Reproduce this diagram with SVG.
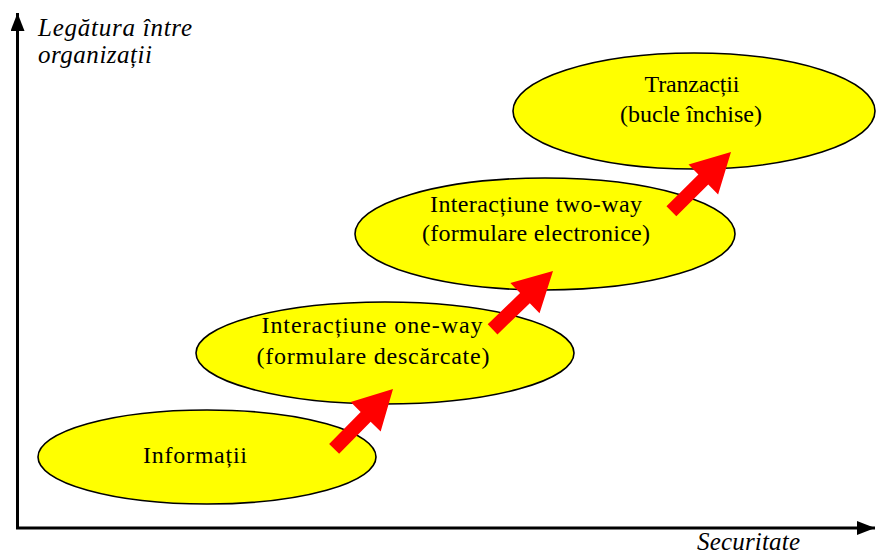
<svg xmlns="http://www.w3.org/2000/svg" xmlns:xlink="http://www.w3.org/1999/xlink" width="876" height="556" viewBox="0 0 876 556">
<style>
.node ellipse{fill:#FFFF00;stroke:#000;stroke-width:1.6}
.node text{font-family:"Liberation Serif","Times New Roman",serif;font-size:24px;fill:#000;text-anchor:middle}
.axis{stroke:#000;stroke-width:3;fill:none}
.axlabel{font-family:"Liberation Serif","Times New Roman",serif;font-style:italic;font-size:25px;fill:#000}
.red{fill:#FF0000}
</style>
<defs>
<marker id="ah" markerUnits="userSpaceOnUse" markerWidth="18" markerHeight="14" viewBox="0 0 18 14" refX="18" refY="7" orient="auto">
<path d="M0,0 L18,7 L0,14 z" fill="#000"/>
</marker>
<path id="blk" class="red" d="M0,0 L-39,-21 L-39,-7 L-84,-7 L-84,7 L-39,7 L-39,21 z"/>
</defs>
<rect width="876" height="556" fill="#fff"/>
<g id="axes">
<path class="axis" d="M17.5,528 V13" marker-end="url(#ah)"/>
<path class="axis" d="M16,528 H875" marker-end="url(#ah)"/>
<text class="axlabel" x="38" y="36" textLength="154">Legătura între</text>
<text class="axlabel" x="38" y="63" textLength="114">organizații</text>
<text class="axlabel" x="697" y="550" font-size="24" textLength="103">Securitate</text>
</g>
<g id="n1" class="node">
<ellipse cx="207" cy="457" rx="169" ry="47"/>
<text x="195" y="463" textLength="104">Informații</text>
</g>
<g id="n2" class="node">
<ellipse cx="385" cy="353" rx="189" ry="51"/>
<text x="372" y="333" textLength="221">Interacțiune one-way</text>
<text x="373" y="364" textLength="233">(formulare descărcate)</text>
</g>
<g id="n3" class="node">
<ellipse cx="545" cy="234" rx="190" ry="56"/>
<text x="536" y="212" textLength="212">Interacțiune two-way</text>
<text x="536" y="241" textLength="228">(formulare electronice)</text>
</g>
<g id="n4" class="node">
<ellipse cx="694" cy="111" rx="181" ry="58"/>
<text x="692" y="92" textLength="95">Tranzacții</text>
<text x="691" y="122" textLength="142">(bucle închise)</text>
</g>
<g id="connectors">
<use xlink:href="#blk" transform="translate(393,389) rotate(-45.5)"/>
<use xlink:href="#blk" transform="translate(553,271) rotate(-44)"/>
<use xlink:href="#blk" transform="translate(731,152) rotate(-44.8)"/>
</g>
</svg>
